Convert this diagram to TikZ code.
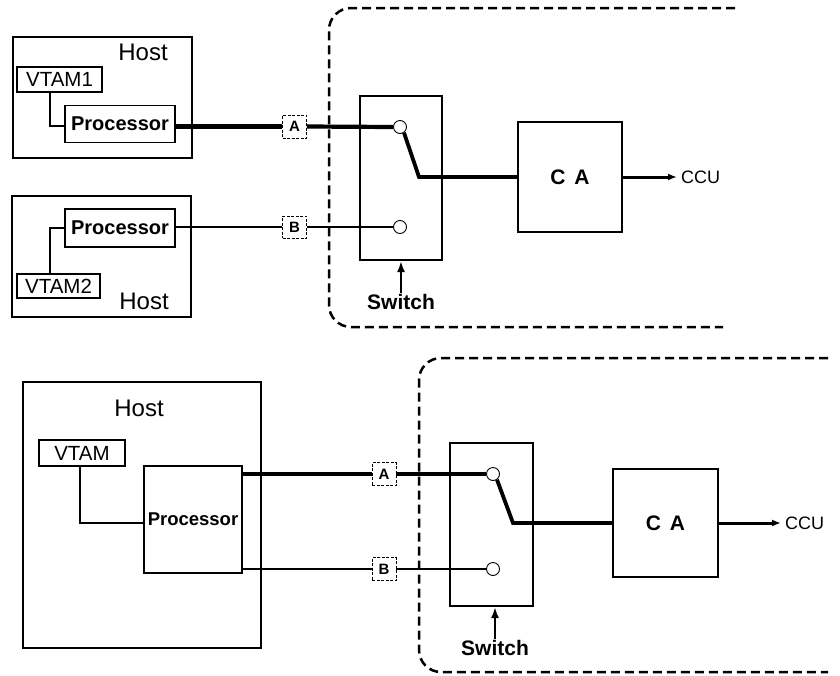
\documentclass[tikz,border=0pt]{standalone}
\usepackage{fontspec}
\setmainfont{Liberation Sans}
\usetikzlibrary{arrows.meta}
\begin{document}
\begin{tikzpicture}[x=1pt,y=-1pt,
  hostbox/.style={draw, line width=1.2pt, inner sep=0pt},
  inbox/.style={draw, line width=1.4pt, inner sep=0pt},
  hostlbl/.style={inner sep=0pt, font=\fontsize{24}{26}\selectfont},
  vtamlbl/.style={font=\fontsize{20.5}{22}\selectfont},
  proclbl/.style={font=\fontsize{20}{22}\selectfont\bfseries},
  tag/.style={draw, line width=0.8pt, dash pattern=on 3pt off 1.5pt, inner sep=0pt,
    minimum width=24pt, minimum height=23pt, font=\fontsize{15}{17}\selectfont\bfseries},
  swbox/.style={draw, line width=2pt, inner sep=0pt},
  cabox/.style={draw, line width=2pt, inner sep=0pt, font=\fontsize{21}{23}\selectfont\bfseries},
  contact/.style={draw, circle, line width=0.9pt, inner sep=0pt, minimum size=13pt},
  thickwire/.style={line width=4.2pt},
  thinwire/.style={line width=1.8pt},
  linkwire/.style={line width=1.5pt},
  leverwire/.style={line width=3.8pt},
  outwire/.style={line width=3pt, -{Latex[length=9pt,width=7pt]}, shorten >=4pt},
  swarrow/.style={line width=2.4pt, -{Latex[length=11pt,width=8pt]}},
  swlbl/.style={inner sep=1pt, font=\fontsize{21}{23}\selectfont\bfseries},
  cculbl/.style={inner sep=0pt, anchor=west, font=\fontsize{18}{20}\selectfont},
  region/.style={line width=2.5pt, dash pattern=on 9pt off 5pt, rounded corners=22pt}
]
\useasboundingbox (0,0) rectangle (840,675);

% ---------------- top diagram ----------------
\node[hostbox, minimum width=179pt, minimum height=121pt] (host1) at (102.5,97.5) {};
\node[hostlbl] (host1lbl) at (143,52) {Host};
\node[inbox, minimum width=85pt, minimum height=25pt, vtamlbl] (vtam1) at (59.5,79.5) {VTAM1};
\node[inbox, minimum width=110pt, minimum height=37pt, proclbl] (proc1) at (120,124) {Processor};
\coordinate (j1) at (50,126);
\draw[linkwire] (vtam1.south -| j1) |- (proc1.west |- j1);

\node[hostbox, minimum width=179pt, minimum height=121pt] (host2) at (101.5,256.5) {};
\node[hostlbl] (host2lbl) at (144,301) {Host};
\node[inbox, minimum width=110pt, minimum height=38pt, proclbl] (proc2) at (120,228) {Processor};
\node[inbox, minimum width=83pt, minimum height=24pt, vtamlbl] (vtam2) at (58.5,286) {VTAM2};
\coordinate (j2) at (50,228);
\draw[linkwire] (vtam2.north -| j2) |- (proc2.west |- j2);

\node[tag] (A1) at (294.5,126.5) {A};
\node[tag, minimum height=22pt] (B1) at (294.5,227) {B};

\node[swbox, minimum width=82pt, minimum height=164pt] (sw1) at (401,178) {};
\node[contact] (c1a) at (400,127) {};
\node[contact] (c1b) at (400,227) {};
\node[cabox, minimum width=104pt, minimum height=110pt] (ca1) at (570,177) {C\hspace{9pt}A};
\node[cculbl] (ccu1) at (681,177) {CCU};
\node[swlbl] (sw1lbl) at (401,302) {Switch};

\draw[thickwire] (proc1.east |- A1.west) -- (A1.west);
\draw[thickwire] (A1.east) -- (c1a.west);
\draw[thinwire] (proc2.east |- B1.west) -- (B1.west);
\draw[thinwire] (B1.east) -- (c1b.west);
\coordinate (k1) at (419,177);
\draw[leverwire] (c1a.-55) -- (k1) -- (ca1.west |- k1);
\draw[outwire] (ca1.east |- ccu1.west) -- (ccu1.west);
\draw[swarrow] (sw1lbl.north) -- (sw1lbl.north |- sw1.south);

\draw[region] (735,8) -- (329,8) -- (329,327) -- (723,327);

% ---------------- bottom diagram ----------------
\node[hostbox, minimum width=238pt, minimum height=266pt] (host3) at (142,515) {};
\node[hostlbl] (host3lbl) at (139,408) {Host};
\node[inbox, minimum width=86pt, minimum height=26pt, vtamlbl] (vtam3) at (82,453) {VTAM};
\node[inbox, minimum width=98pt, minimum height=107pt, font=\fontsize{18.5}{20}\selectfont\bfseries] (proc3) at (193,519.5) {Processor};
\coordinate (j3) at (80,523);
\draw[linkwire] (vtam3.south -| j3) |- (proc3.west |- j3);

\node[tag] (A2) at (384,474) {A};
\node[tag] (B2) at (384,569) {B};

\node[swbox, minimum width=83pt, minimum height=163pt] (sw2) at (491.5,524.5) {};
\node[contact] (c2a) at (493,474) {};
\node[contact] (c2b) at (493,569) {};
\node[cabox, minimum width=105pt, minimum height=108pt] (ca2) at (665.5,523) {C\hspace{9pt}A};
\node[cculbl] (ccu2) at (785,523) {CCU};
\node[swlbl] (sw2lbl) at (495,648) {Switch};

\draw[thickwire] (proc3.east |- A2.west) -- (A2.west);
\draw[thickwire] (A2.east) -- (c2a.west);
\draw[thinwire] (proc3.east |- B2.west) -- (B2.west);
\draw[thinwire] (B2.east) -- (c2b.west);
\coordinate (k2) at (513,523);
\draw[leverwire] (c2a.-55) -- (k2) -- (ca2.west |- k2);
\draw[outwire] (ca2.east |- ccu2.west) -- (ccu2.west);
\draw[swarrow] (sw2lbl.north) -- (sw2lbl.north |- sw2.south);

\draw[region] (828,358) -- (419,358) -- (419,672) -- (828,672);
\end{tikzpicture}
\end{document}
